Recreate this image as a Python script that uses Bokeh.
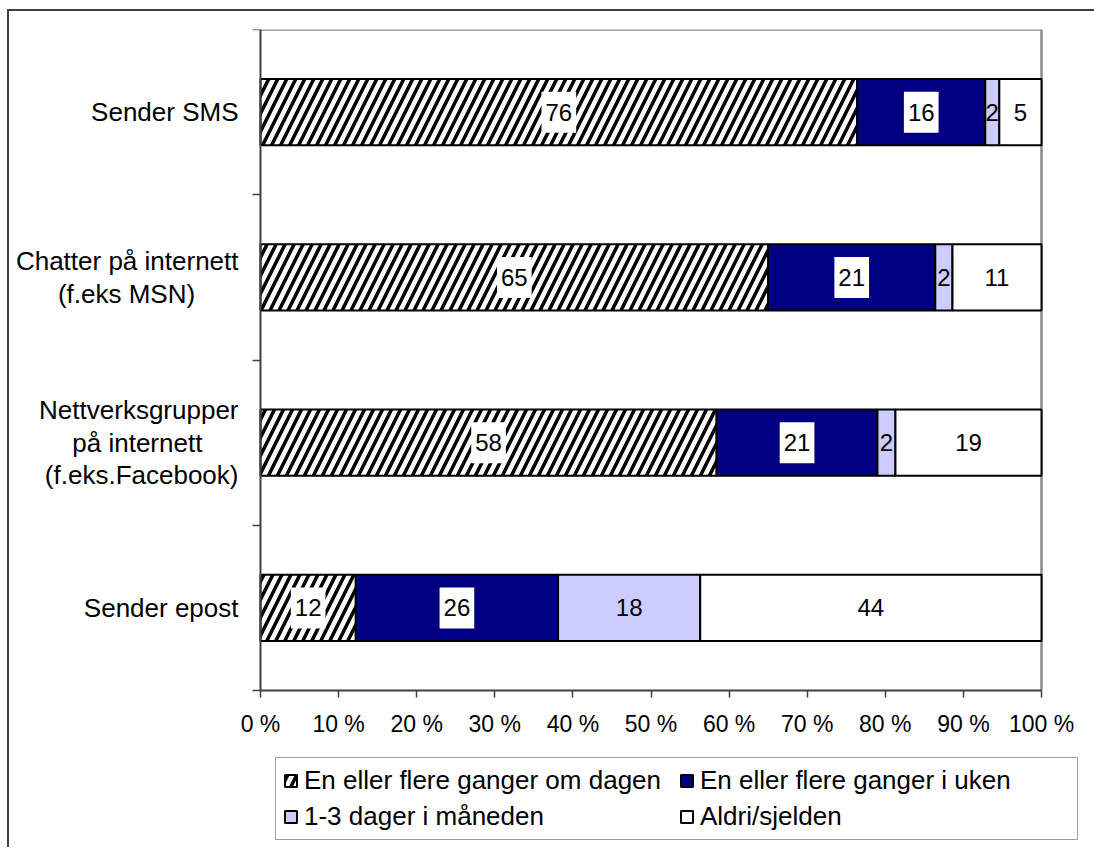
import numpy as np
from bokeh.plotting import figure
from bokeh.models import (Range1d, FixedTicker, LinearAxis, Legend, LegendItem,
                          ColumnDataSource)
from bokeh.core.properties import value
from bokeh.embed import file_html
from bokeh.resources import INLINE

# ---------------- data ----------------
categories = [
    "Sender SMS",
    "Chatter på internett\n(f.eks MSN)",
    "Nettverksgrupper\npå internett\n(f.eks.Facebook)",
    "Sender epost",
]
series_names = [
    "En eller flere ganger om dagen",
    "En eller flere ganger i uken",
    "1-3 dager i måneden",
    "Aldri/sjelden",
]
daily = [76.4, 65.0, 58.4, 12.2]
weekly = [16.4, 21.4, 20.6, 25.9]
monthly = [1.8, 2.2, 2.3, 18.2]
never = [5.4, 11.4, 18.7, 43.7]

tick_values = [0, 10, 20, 30, 40, 50, 60, 70, 80, 90, 100]
tick_labels = ["0 %", "10 %", "20 %", "30 %", "40 %", "50 %",
               "60 %", "70 %", "80 %", "90 %", "100 %"]

# ---------------- styles / layout ----------------
FONT = "Liberation Sans"
fills = ["white", "#000080", "#CCCCFF", "white"]
label_boxes = [True, True, False, False]
# non-breaking spaces appended to lines so that wrapped lines look centred
line_pads = [[0], [0, 6], [0, 5, 0], [0]]
PLOT_W = 781      # width of the bar area in px
PLOT_H = 661      # height of the bar area in px
EXTRA_H = 155     # room below the bar area for the axis labels and legend
PAD_L = 22        # room left of 0 % inside the frame
PAD_R = 40        # room right of 100 % inside the frame

n = len(categories)
ys = [n - i - 0.5 for i in range(n)]
boundaries = list(range(n + 1))

vals = np.array([daily, weekly, monthly, never], dtype=float)
shares = vals / vals.sum(axis=0) * 100.0
rights = np.cumsum(shares, axis=0)
lefts = rights - shares

px_per_pct = PLOT_W / 100.0
p = figure(frame_width=PLOT_W + PAD_L + PAD_R, frame_height=PLOT_H + EXTRA_H,
           min_border_left=229, min_border_top=18,
           min_border_right=13, min_border_bottom=2,
           x_range=Range1d(-PAD_L / px_per_pct, 100 + PAD_R / px_per_pct),
           y_range=Range1d(-n * EXTRA_H / PLOT_H, n),
           toolbar_location=None, output_backend="svg", title=None)
p.styles = {"border-left": "2px solid #404040", "border-top": "2px solid #404040",
            "margin-left": "7px", "margin-top": "9px"}
p.background_fill_color = "white"
p.border_fill_color = "white"
p.outline_line_color = None
p.xgrid.visible = False
p.ygrid.visible = False

# plot-area border (top and right, grey)
p.segment(x0=[0, 100], y0=[n, 0], x1=[100, 100], y1=[n, n],
          line_color="#8c8c8c", line_width=2.5)

items = []
for i in range(4):
    src = ColumnDataSource(dict(
        y=ys,
        left=lefts[i],
        right=rights[i],
        mid=(lefts[i] + rights[i]) / 2.0,
        lab=[f"{v:.0f}" for v in vals[i]],
    ))
    kw = dict(fill_color=fills[i], line_color="black", line_width=2)
    if i == 0:
        kw.update(hatch_pattern="/", hatch_color="black", hatch_scale=18, hatch_weight=3.5)
    r = p.hbar(y="y", left="left", right="right", height=0.40, source=src, **kw)
    items.append(LegendItem(label=series_names[i], renderers=[r]))
    tkw = dict(text_font=value(FONT), text_font_size="24px", text_color="black",
               text_align="center", text_baseline="middle")
    if label_boxes[i]:
        tkw.update(background_fill_color="white",
                   padding=dict(left=4, right=4, top=12, bottom=12))
    p.text(x="mid", y="y", text="lab", source=src, **tkw)

# x axis, drawn at y = 0
xa = p.xaxis[0]
xa.fixed_location = 0
xa.bounds = (0, 100)
xa.ticker = FixedTicker(ticks=tick_values)
xa.major_label_overrides = {t: l for t, l in zip(tick_values, tick_labels)}
xa.major_tick_out = 7
xa.major_tick_in = 0
xa.minor_tick_line_color = None
xa.axis_line_color = "#404040"
xa.axis_line_width = 2
xa.major_tick_line_color = "#404040"
xa.major_tick_line_width = 1.5
xa.major_label_text_font = FONT
xa.major_label_text_font_size = "23px"
xa.major_label_text_color = "black"
xa.major_label_standoff = 13

# y axis (category boundaries, no labels), drawn at x = 0
ya = p.yaxis[0]
ya.fixed_location = 0
ya.bounds = (0, n)
ya.ticker = FixedTicker(ticks=boundaries)
ya.major_label_overrides = {b: "" for b in boundaries}
ya.major_label_standoff = 0
ya.major_tick_out = 8
ya.major_tick_in = 0
ya.minor_tick_line_color = None
ya.axis_line_color = "#404040"
ya.axis_line_width = 2
ya.major_tick_line_color = "#404040"
ya.major_tick_line_width = 1.5

# category labels axis
def padded(label, pads):
    return "\n".join(line + "\u00a0" * k for line, k in zip(label.split("\n"), pads))

ya2 = LinearAxis(ticker=FixedTicker(ticks=ys),
                 major_label_overrides={y: padded(c, pd)
                                        for y, c, pd in zip(ys, categories, line_pads)})
ya2.axis_line_color = None
ya2.major_tick_line_color = None
ya2.minor_tick_line_color = None
ya2.major_tick_out = 0
ya2.major_tick_in = 0
ya2.major_label_standoff = 0
ya2.major_label_text_font = FONT
ya2.major_label_text_font_size = "26px"
ya2.major_label_text_color = "black"
ya2.major_label_text_line_height = 1.08
p.add_layout(ya2, "left")

leg = Legend(items=items, location=(37, 5), orientation="horizontal", ncols=2,
             glyph_width=15, glyph_height=15, label_standoff=6, spacing=5,
             padding=7, margin=0, label_height=30, label_width=370,
             border_line_color="#404040", border_line_width=1,
             background_fill_color="white",
             label_text_font=FONT, label_text_font_size="26px",
             label_text_color="black")
p.add_layout(leg)

with open("out.html", "w", encoding="utf-8") as f:
    f.write(file_html(p, INLINE))
